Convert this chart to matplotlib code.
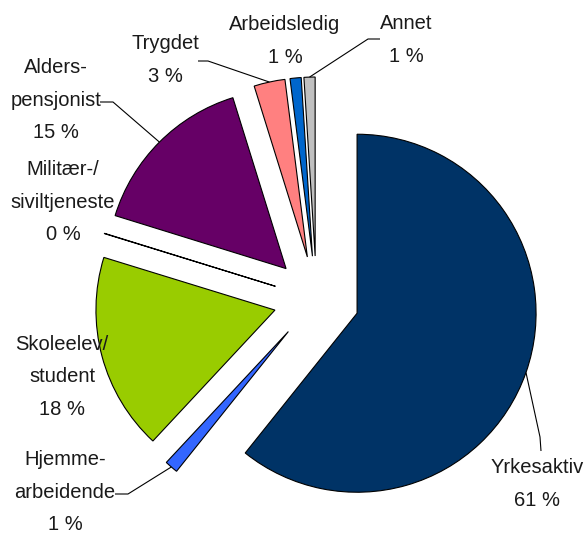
import matplotlib
matplotlib.use('Agg')
import matplotlib.pyplot as plt
import numpy as np

# ---- data ----
categories = ['Yrkesaktiv', 'Hjemme-\narbeidende', 'Skoleelev/\nstudent',
              'Militær-/\nsiviltjeneste', 'Alders-\npensjonist', 'Trygdet',
              'Arbeidsledig', 'Annet']
values = [60.7, 1.2, 17.8, 0.03, 15.4, 2.8, 1.0, 1.0]
colors = ['#003366', '#3366FF', '#99CC00', '#FFFFFF', '#660066', '#FF8080',
          '#0066CC', '#C0C0C0']

plt.rcParams['font.family'] = ['Liberation Sans', 'DejaVu Sans']

W, H = 585, 533
fig = plt.figure(figsize=(W / 100, H / 100), dpi=100)
ax = fig.add_axes([0, 0, 1, 1])

R = 179
center = (316.5, H - 299)
wedges, _ = ax.pie(values, colors=colors, startangle=90, counterclock=False,
                   radius=R, center=center, explode=[43] * len(values),
                   wedgeprops=dict(edgecolor='black', linewidth=0.8))
ax.set_xlim(0, W)
ax.set_ylim(0, H)
ax.set_aspect('equal')
ax.axis('off')

def px(x, y):
    return x, H - y

# label layout: (center x, center y) in pixel coordinates, and leader elbows
label_pos = [(537, 484), (65, 492), (62, 377), (63, 202), (56, 100),
             (165, 60), (285, 41), (406, 40)]
leaders = {
    0: [(540, 437), (541, 451)],
    1: [(128, 494), (115, 494)],
    4: [(113, 102), (100, 102)],
    5: [(208, 61), (198, 61)],
    7: [(368, 39), (380, 39)],
}

txt_color = '#1a1a1a'
for i, (name, v) in enumerate(zip(categories, values)):
    lx, ly = label_pos[i]
    ax.text(*px(lx, ly), f"{name}\n{v:.0f} %", ha='center', va='center',
            fontsize=14.5, color=txt_color, linespacing=1.9)
    if i in leaders:
        w = wedges[i]
        tm = np.deg2rad((w.theta1 + w.theta2) / 2)
        sx = w.center[0] + w.r * np.cos(tm)
        sy = w.center[1] + w.r * np.sin(tm)
        xs = [sx] + [p[0] for p in leaders[i]]
        ys = [sy] + [H - p[1] for p in leaders[i]]
        ax.plot(xs, ys, color='black', linewidth=0.8, solid_capstyle='butt')

fig.savefig('out.png', dpi=100)
